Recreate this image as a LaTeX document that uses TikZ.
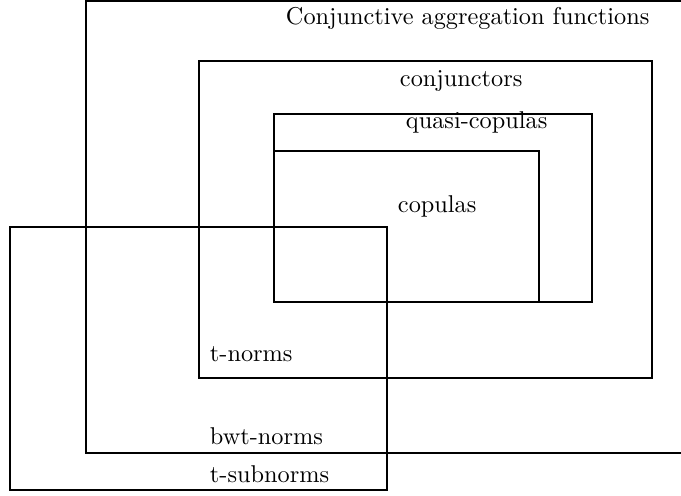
\documentclass[tikz,border=0pt]{standalone}
\begin{document}
\begin{tikzpicture}[x=0.4115pt,y=-0.4115pt,line width=0.8pt,
  lbl/.style={anchor=base west,inner sep=0pt}]
\useasboundingbox (0,0) rectangle (681,495);
% sets as rectangles
\draw (86,1) rectangle (684,453);
\draw (199,61) rectangle (652,378);
\draw (274,114) rectangle (592,302);
\draw (274,151) rectangle (539,302);
\draw (10,227) rectangle (387,490);
% names of the sets
\node[lbl] (caf) at (285,25) {Conjunctive aggregation functions};
\node[lbl] (conj) at (399,87) {conjunctors};
\node[lbl] (qcop) at (405,128) {quasi-copulas};
\node[lbl] (cop) at (397,212) {copulas};
\node[lbl] (tn) at (209,361) {t-norms};
\node[lbl] (bwt) at (209,444) {bwt-norms};
\node[lbl] (tsub) at (209,482) {t-subnorms};
\end{tikzpicture}
\end{document}
